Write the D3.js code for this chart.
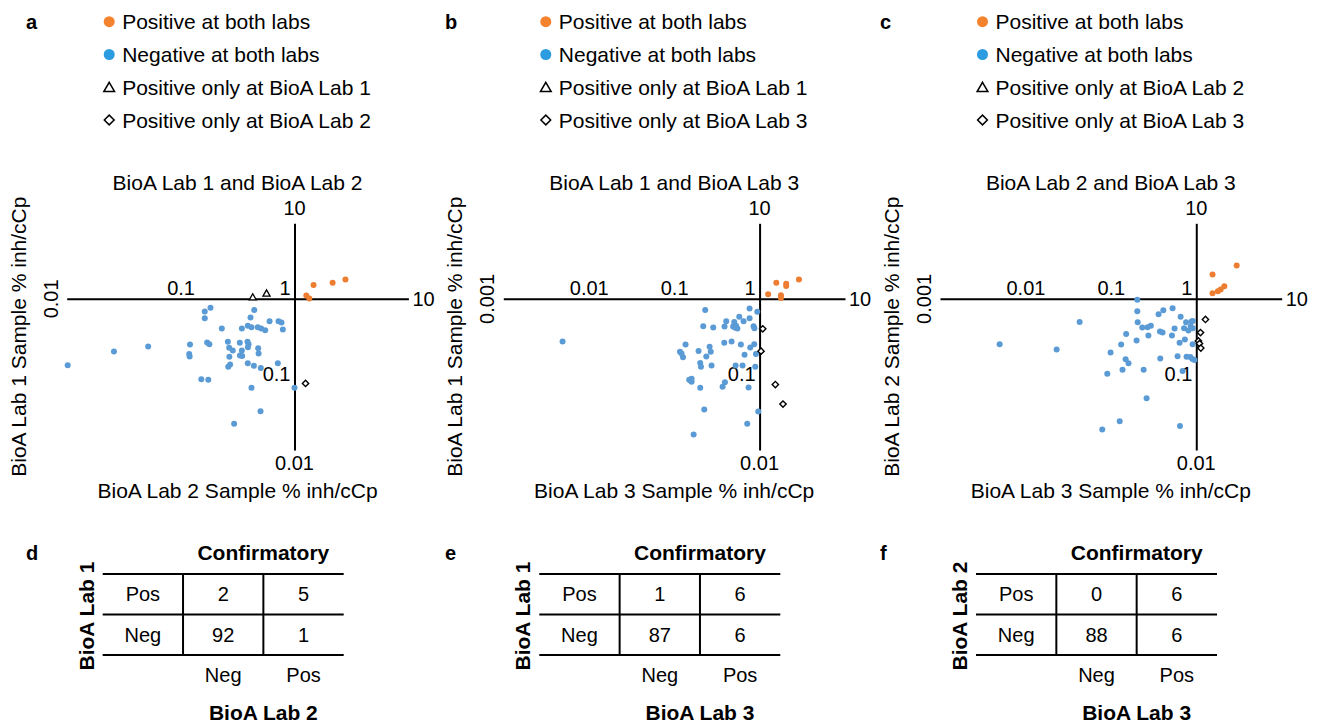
<!DOCTYPE html>
<html>
<head>
<meta charset="utf-8">
<script src="https://cdn.jsdelivr.net/npm/d3@7"></script>
<style>
  body { margin: 0; background: #fff; }
  text { font-family: "Liberation Sans", Arial, sans-serif; fill: #000; }
</style>
</head>
<body>
<script>
// ---- data ----
var titles = ["BioA Lab 1 and BioA Lab 2", "BioA Lab 1 and BioA Lab 3", "BioA Lab 2 and BioA Lab 3"];
var xTitles = ["BioA Lab 2 Sample % inh/cCp", "BioA Lab 3 Sample % inh/cCp", "BioA Lab 3 Sample % inh/cCp"];
var yTitles = ["BioA Lab 1 Sample % inh/cCp", "BioA Lab 1 Sample % inh/cCp", "BioA Lab 2 Sample % inh/cCp"];
var panelLetters = ["a", "b", "c"];
var tableLetters = ["d", "e", "f"];
var xDomains = [[0.01, 10], [0.001, 10], [0.001, 10]];
var yDomain = [0.01, 10];
var xTicks = [[0.01, 0.1, 1, 10], [0.001, 0.01, 0.1, 1, 10], [0.001, 0.01, 0.1, 1, 10]];
var yTicks = [0.01, 0.1, 1, 10];
var legendLabels = [
  ["Positive at both labs", "Negative at both labs", "Positive only at BioA Lab 1", "Positive only at BioA Lab 2"],
  ["Positive at both labs", "Negative at both labs", "Positive only at BioA Lab 1", "Positive only at BioA Lab 3"],
  ["Positive at both labs", "Negative at both labs", "Positive only at BioA Lab 2", "Positive only at BioA Lab 3"]
];

// [x, y] pairs
var posBothA = [[1.47,1.53],[2.16,1.64],[2.80,1.80],[1.27,1.11],[1.35,1.01]];
var negBothA = [[0.0102,0.132],[0.026,0.201],[0.0519,0.234],[0.121,0.249],[0.119,0.187],[0.12,0.173],
  [0.171,0.264],[0.179,0.251],[0.163,0.68],[0.183,0.76],[0.163,0.555],[0.23,0.405],[0.152,0.0865],
  [0.175,0.085],[0.26,0.27],[0.267,0.225],[0.287,0.207],[0.268,0.171],[0.262,0.126],[0.272,0.135],
  [0.331,0.262],[0.345,0.207],[0.332,0.178],[0.347,0.176],[0.387,0.27],[0.39,0.229],[0.395,0.25],
  [0.389,0.141],[0.44,0.13],[0.506,0.122],[0.48,0.222],[0.484,0.189],[0.714,0.141],[0.345,0.405],
  [0.389,0.44],[0.419,0.422],[0.476,0.42],[0.51,0.405],[0.553,0.385],[0.411,0.566],[0.443,0.715],
  [0.604,0.506],[0.724,0.506],[0.769,0.486],[0.79,0.393],[0.419,0.0664],[0.503,0.0326],[0.295,0.0222],
  [1.0,0.0664]];
var onlyYA = [[0.43,1.03],[0.568,1.16]];
var onlyXA = [[1.25,0.076]];

var posBothB = [[1.57,1.63],[2.05,1.59],[2.05,1.48],[2.89,1.81],[1.26,1.15],[1.78,1.12],[1.78,1.03]];
var negBothB = [[0.00494,0.272],[0.231,0.715],[0.219,0.435],[0.287,0.418],[0.407,0.506],[0.389,0.43],
  [0.505,0.496],[0.49,0.43],[0.52,0.415],[0.55,0.405],[0.53,0.44],[0.578,0.578],[0.65,0.506],
  [0.764,0.745],[0.764,0.555],[0.94,0.673],[0.85,0.435],[0.87,0.41],[0.136,0.249],[0.117,0.2],
  [0.122,0.189],[0.127,0.169],[0.193,0.205],[0.26,0.232],[0.268,0.2],[0.238,0.173],[0.202,0.142],
  [0.206,0.126],[0.274,0.131],[0.386,0.262],[0.47,0.272],[0.604,0.249],[0.667,0.182],[0.778,0.227],
  [0.866,0.251],[0.906,0.187],[0.524,0.131],[0.632,0.131],[0.89,0.126],[0.15,0.085],[0.155,0.083],
  [0.16,0.088],[0.16,0.08],[0.202,0.0664],[0.369,0.0685],[0.393,0.079],[0.743,0.067],[0.225,0.0343],
  [0.965,0.0323],[0.717,0.0222],[0.169,0.016]];
var onlyYB = [];
var onlyXB = [[1.09,0.401],[1.04,0.203],[1.53,0.0735],[1.88,0.0405]];

var posBothC = [[1.55,2.1],[2.97,2.77],[1.55,1.19],[1.79,1.26],[1.93,1.33],[2.13,1.47]];
var negBothC = [[0.00499,0.251],[0.0232,0.214],[0.0431,0.496],[0.204,0.97],[0.204,0.687],[0.206,0.491],
  [0.233,0.418],[0.269,0.42],[0.294,0.44],[0.275,0.327],[0.362,0.627],[0.411,0.708],[0.528,0.752],
  [0.656,0.578],[0.557,0.405],[0.376,0.37],[0.403,0.358],[0.519,0.327],[0.76,0.49],[0.72,0.41],
  [0.81,0.38],[0.88,0.5],[0.91,0.51],[0.86,0.43],[0.91,0.41],[0.736,0.29],[0.638,0.262],[0.906,0.251],
  [0.151,0.344],[0.132,0.249],[0.2,0.281],[0.0993,0.195],[0.149,0.159],[0.161,0.141],[0.137,0.115],
  [0.0908,0.102],[0.242,0.115],[0.379,0.162],[0.604,0.174],[0.77,0.172],[0.85,0.17],[0.9,0.16],
  [0.95,0.155],[0.692,0.111],[0.262,0.0485],[0.127,0.024],[0.0793,0.0187],[0.644,0.0207]];
var onlyYC = [];
var onlyXC = [[1.28,0.534],[1.12,0.358],[1.06,0.278],[1.09,0.256],[1.13,0.223]];

// confirmatory tables
var tableRows = ["Pos", "Neg"];
var tableCols = ["Neg", "Pos"];
var tableRowTitles = ["BioA Lab 1", "BioA Lab 1", "BioA Lab 2"];
var tableColTitles = ["BioA Lab 2", "BioA Lab 3", "BioA Lab 3"];
var tableD = [[2, 5], [92, 1]];
var tableE = [[1, 6], [87, 6]];
var tableF = [[0, 6], [88, 6]];

var panels = [
  {pos: posBothA, neg: negBothA, onlyY: onlyYA, onlyX: onlyXA, table: tableD},
  {pos: posBothB, neg: negBothB, onlyY: onlyYB, onlyX: onlyXB, table: tableE},
  {pos: posBothC, neg: negBothC, onlyY: onlyYC, onlyX: onlyXC, table: tableF}
];

// ---- layout ----
var width = 1318, height = 722;
var panelX0 = [66.7, 503.3, 940];
var letterX = [26, 445, 880];
var plotW = 341.7, plotTop = 223.3, plotBottom = 450;
var orange = "#ED7D31", blue = "#5B9BD5";
var legOrange = "#F5822C", legBlue = "#2B9CE0";
var fmt = function(d) { return String(d); };

var svg = d3.select("body").append("svg")
    .attr("width", width)
    .attr("height", height);

panels.forEach(function(p, i) {
  var x0 = panelX0[i];
  var x = d3.scaleLog().domain(xDomains[i]).range([x0, x0 + plotW]);
  var y = d3.scaleLog().domain(yDomain).range([plotBottom, plotTop]);
  var g = svg.append("g");

  // letter + legend
  g.append("text").attr("x", letterX[i]).attr("y", 29)
    .style("font-size", "20px").style("font-weight", "bold").text(panelLetters[i]);
  var rowsY = [21.7, 54.5, 87.5, 120];
  var lx = x0 + 42.5;
  legendLabels[i].forEach(function(lbl, k) {
    g.append("text").attr("x", x0 + 55.5).attr("y", rowsY[k] + 7.5)
      .style("font-size", "21px").text(lbl);
  });
  g.append("circle").attr("cx", lx).attr("cy", rowsY[0]).attr("r", 5.5).attr("fill", legOrange);
  g.append("circle").attr("cx", lx).attr("cy", rowsY[1]).attr("r", 5.5).attr("fill", legBlue);
  g.append("path").attr("d", d3.symbol(d3.symbolTriangle, 50)())
    .attr("transform", "translate(" + lx + "," + (rowsY[2] + 1) + ")")
    .attr("fill", "none").attr("stroke", "#000").attr("stroke-width", 1.5);
  g.append("path").attr("d", d3.symbol(d3.symbolSquare, 48)())
    .attr("transform", "translate(" + lx + "," + rowsY[3] + ") rotate(45)")
    .attr("fill", "none").attr("stroke", "#000").attr("stroke-width", 1.5);

  // titles
  g.append("text").attr("x", x0 + plotW / 2).attr("y", 189.5)
    .attr("text-anchor", "middle").style("font-size", "21px").text(titles[i]);
  g.append("text").attr("x", x0 + plotW / 2).attr("y", 497.5)
    .attr("text-anchor", "middle").style("font-size", "21px").text(xTitles[i]);
  g.append("text")
    .attr("transform", "translate(" + (x0 - 41) + "," + ((plotTop + plotBottom) / 2) + ") rotate(-90)")
    .attr("text-anchor", "middle").style("font-size", "21px").text(yTitles[i]);

  // x axis crossing at 1
  var xd = xDomains[i];
  var gx = g.append("g")
    .attr("transform", "translate(0," + y(1) + ")")
    .call(d3.axisTop(x)
      .tickValues(xTicks[i].filter(function(t) { return t > xd[0] && t < 1; }))
      .tickSize(0).tickSizeOuter(0).tickPadding(4).tickFormat(fmt));
  gx.select(".domain").attr("stroke", "#000").attr("stroke-width", 2);
  gx.selectAll(".tick text").style("font-size", "20px").attr("fill", "#000");

  // y axis crossing at 1
  var gy = g.append("g")
    .attr("transform", "translate(" + x(1) + ",0)")
    .call(d3.axisLeft(y)
      .tickValues(yTicks.filter(function(t) { return t > yDomain[0] && t < 1; }))
      .tickSize(0).tickSizeOuter(0).tickPadding(4).tickFormat(fmt));
  gy.select(".domain").attr("stroke", "#000").attr("stroke-width", 2);
  gy.selectAll(".tick text").style("font-size", "20px").attr("fill", "#000");

  // end labels
  g.append("text").attr("x", x(1)).attr("y", y(yDomain[1]) - 8)
    .attr("text-anchor", "middle").style("font-size", "20px").text(fmt(yDomain[1]));
  g.append("text").attr("x", x(1)).attr("y", y(yDomain[0]) + 20)
    .attr("text-anchor", "middle").style("font-size", "20px").text(fmt(yDomain[0]));
  g.append("text").attr("x", x(xd[1]) + 4).attr("y", y(1) + 7)
    .style("font-size", "20px").text(fmt(xd[1]));
  g.append("text")
    .attr("transform", "translate(" + (x(xd[0]) - 9) + "," + y(1) + ") rotate(-90)")
    .attr("text-anchor", "middle").style("font-size", "20px").text(fmt(xd[0]));
  g.append("text").attr("x", x(1) - 4).attr("y", y(1) - 4)
    .attr("text-anchor", "end").style("font-size", "20px").text("1");

  // points
  g.selectAll(".neg").data(p.neg).enter().append("circle")
    .attr("class", "neg")
    .attr("cx", function(d) { return x(d[0]); })
    .attr("cy", function(d) { return y(d[1]); })
    .attr("r", 3).attr("fill", blue);
  g.selectAll(".pos").data(p.pos).enter().append("circle")
    .attr("class", "pos")
    .attr("cx", function(d) { return x(d[0]); })
    .attr("cy", function(d) { return y(d[1]); })
    .attr("r", 3).attr("fill", orange);
  g.selectAll(".onlyY").data(p.onlyY).enter().append("path")
    .attr("class", "onlyY")
    .attr("d", d3.symbol(d3.symbolTriangle, 22)())
    .attr("transform", function(d) { return "translate(" + x(d[0]) + "," + y(d[1]) + ")"; })
    .attr("fill", "#fff").attr("stroke", "#000").attr("stroke-width", 1.3);
  g.selectAll(".onlyX").data(p.onlyX).enter().append("path")
    .attr("class", "onlyX")
    .attr("d", d3.symbol(d3.symbolSquare, 20)())
    .attr("transform", function(d) { return "translate(" + x(d[0]) + "," + y(d[1]) + ") rotate(45)"; })
    .attr("fill", "#fff").attr("stroke", "#000").attr("stroke-width", 1.4);

  // confirmatory table
  var t0 = x0 + 36;
  var col = d3.scaleBand().domain(["label"].concat(tableCols)).range([t0, t0 + 241]);
  var row = d3.scaleBand().domain(tableRows).range([574, 655]);
  var tg = svg.append("g");
  tg.append("text").attr("x", letterX[i]).attr("y", 560)
    .style("font-size", "20px").style("font-weight", "bold").text(tableLetters[i]);
  tg.append("text").attr("x", col("Neg") + col.bandwidth()).attr("y", 560)
    .attr("text-anchor", "middle").style("font-size", "21px").style("font-weight", "bold")
    .text("Confirmatory");
  tg.append("text").attr("x", col("Neg") + col.bandwidth()).attr("y", 719.5)
    .attr("text-anchor", "middle").style("font-size", "21px").style("font-weight", "bold")
    .text(tableColTitles[i]);
  tg.append("text")
    .attr("transform", "translate(" + (t0 - 9) + ",616) rotate(-90)")
    .attr("text-anchor", "middle").style("font-size", "21px").style("font-weight", "bold")
    .text(tableRowTitles[i]);
  [574, 574 + row.bandwidth(), 655].forEach(function(yy) {
    tg.append("line").attr("x1", t0).attr("x2", t0 + 241).attr("y1", yy).attr("y2", yy)
      .attr("stroke", "#000").attr("stroke-width", 2);
  });
  tableCols.forEach(function(c) {
    tg.append("line").attr("x1", col(c)).attr("x2", col(c)).attr("y1", 574).attr("y2", 655)
      .attr("stroke", "#000").attr("stroke-width", 2);
    tg.append("text").attr("x", col(c) + col.bandwidth() / 2).attr("y", 681.5)
      .attr("text-anchor", "middle").style("font-size", "20px").text(c);
  });
  tableRows.forEach(function(r, ri) {
    var cy = row(r) + row.bandwidth() / 2 + 7;
    tg.append("text").attr("x", col("label") + col.bandwidth() / 2).attr("y", cy)
      .attr("text-anchor", "middle").style("font-size", "20px").text(r);
    tableCols.forEach(function(c, ci) {
      tg.append("text").attr("x", col(c) + col.bandwidth() / 2).attr("y", cy)
        .attr("text-anchor", "middle").style("font-size", "20px").text(p.table[ri][ci]);
    });
  });
});
</script>
</body>
</html>
